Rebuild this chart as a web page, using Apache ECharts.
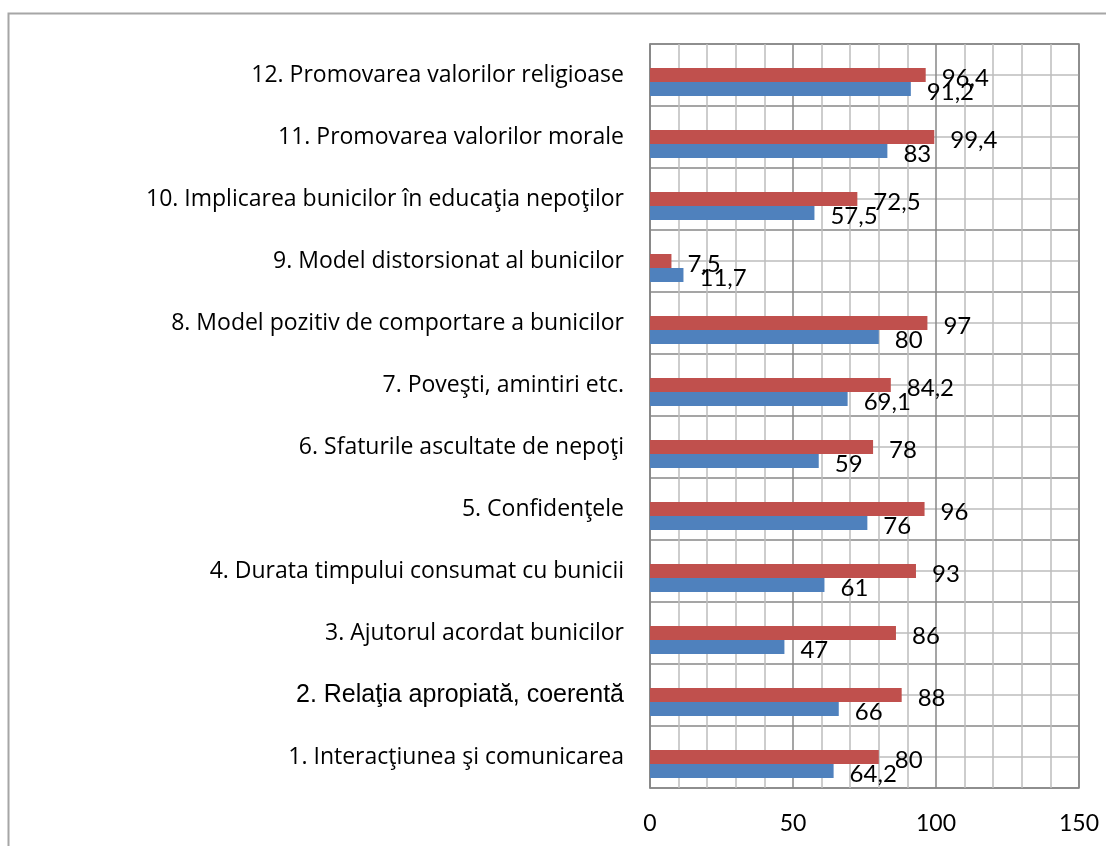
<!DOCTYPE html>
<html>
<head>
<meta charset="utf-8">
<script src="https://cdn.jsdelivr.net/npm/echarts@6/dist/echarts.min.js"></script>
<style>
html,body{margin:0;padding:0;background:#fff;}
#chart{width:1106px;height:846px;}
</style>
</head>
<body>
<div id="chart"></div>
<script>
const categories = [
  '1. Interacţiunea şi comunicarea',
  '2. Relaţia apropiată, coerentă',
  '3. Ajutorul acordat bunicilor',
  '4. Durata timpului consumat cu bunicii',
  '5. Confidenţele',
  '6. Sfaturile ascultate de nepoţi',
  '7. Poveşti, amintiri etc.',
  '8. Model pozitiv de comportare a bunicilor',
  '9. Model distorsionat al bunicilor',
  '10. Implicarea bunicilor în educaţia nepoţilor',
  '11. Promovarea valorilor morale',
  '12. Promovarea valorilor religioase'
];
const redValues  = [80, 88, 86, 93, 96, 78, 84.2, 97, 7.5, 72.5, 99.4, 96.4];
const blueValues = [64.2, 66, 47, 61, 76, 59, 69.1, 80, 11.7, 57.5, 83, 91.2];
const xTicks = [0, 50, 100, 150];

const chart = echarts.init(document.getElementById('chart'));
const fmt = p => String(p.value).replace('.', ',');
const numLabel = {
  show: true, position: 'right', distance: 16, offset: [0, 3],
  formatter: fmt, color: '#000', fontFamily: 'Lato', fontSize: 24
};
chart.setOption({
  animation: false,
  backgroundColor: '#fff',
  graphic: [
    { type: 'polyline', z: 0, shape: { points: [[8.5, 846], [8.5, 13.5], [1106, 13.5]] },
      style: { stroke: '#a6a6a6', lineWidth: 2, fill: null } }
  ],
  grid: { left: 650, top: 44, width: 429, height: 744, show: true, borderColor: '#878787', borderWidth: 1.5 },
  xAxis: {
    type: 'value', min: xTicks[0], max: xTicks[xTicks.length - 1], interval: 50,
    axisLine: { show: false }, axisTick: { show: false },
    axisLabel: { margin: 24, color: '#000', fontFamily: 'Lato', fontSize: 23,
      formatter: v => xTicks.includes(v) ? String(v) : '' },
    splitLine: { show: true, lineStyle: { color: '#878787', width: 1.5 } },
    minorTick: { show: false, splitNumber: 5 },
    minorSplitLine: { show: true, lineStyle: { color: '#bdbdbd', width: 1.5 } }
  },
  yAxis: [
    {
      type: 'category', data: categories,
      axisLine: { show: true, lineStyle: { color: '#878787', width: 1.5 } },
      axisTick: { show: false },
      splitLine: { show: false },
      axisLabel: {
        margin: 26, color: '#000', fontFamily: 'Open Sans', fontSize: 23,
        formatter: (v) => v.startsWith('2. ') ? '{a|' + v + '}' : v,
        rich: { a: { fontFamily: 'Liberation Sans', fontSize: 25, color: '#000' } }
      }
    },
    {
      type: 'value', min: 0, max: 12, interval: 1, position: 'left',
      axisLine: { show: false }, axisTick: { show: false }, axisLabel: { show: false },
      splitLine: { show: true, lineStyle: { color: '#878787', width: 1.5 } },
      minorTick: { show: false, splitNumber: 2 },
      minorSplitLine: { show: true, lineStyle: { color: '#bdbdbd', width: 1.5 } }
    }
  ],
  series: [
    { type: 'bar', name: 'spacer', yAxisIndex: 0, barWidth: 14, barGap: '0%', data: categories.map(() => null), silent: true },
    { type: 'bar', name: 'red', yAxisIndex: 0, barWidth: 14, barGap: '0%', data: redValues,
      itemStyle: { color: '#C0504D' }, label: numLabel, z: 3 },
    { type: 'bar', name: 'blue', yAxisIndex: 0, barWidth: 14, barGap: '0%', data: blueValues,
      itemStyle: { color: '#4F81BD' }, label: numLabel, z: 3 }
  ]
});
</script>
</body>
</html>
